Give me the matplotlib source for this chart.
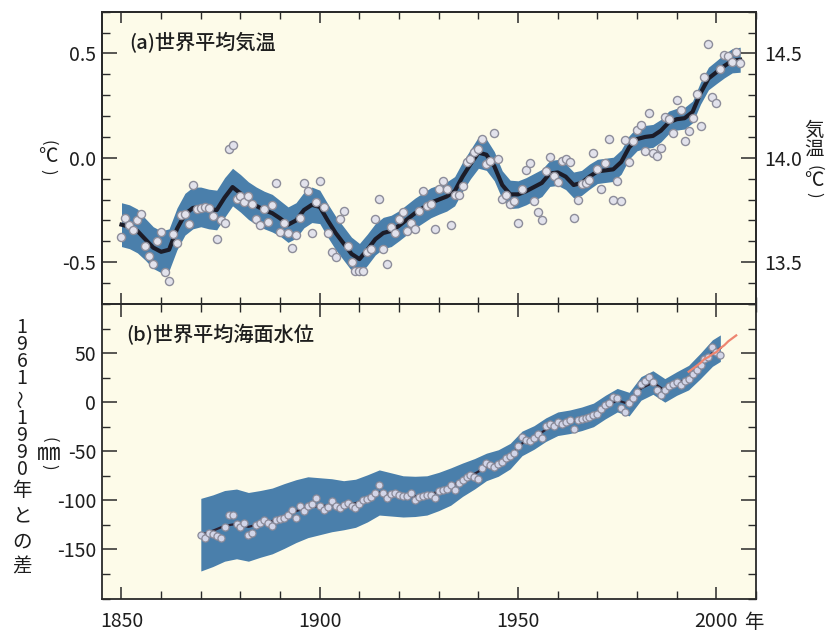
import numpy as np
import matplotlib
matplotlib.use("Agg")
import matplotlib.pyplot as plt
from matplotlib.ticker import MultipleLocator, FixedLocator

plt.rcParams['font.family'] = ['Noto Sans CJK JP', 'DejaVu Sans']
plt.rcParams['axes.unicode_minus'] = False

# (a) 世界平均気温 : 年平均偏差 (1961-1990 平均との差, ℃)
temp_years = np.arange(1850, 2007)
temp_vals = [
    -0.38, -0.29, -0.32, -0.345, -0.30, -0.27, -0.42, -0.47, -0.51, -0.40,
    -0.355, -0.545, -0.59, -0.365, -0.41, -0.275, -0.27, -0.315, -0.13, -0.245,
    -0.24, -0.235, -0.24, -0.28, -0.39, -0.30, -0.31, 0.04, 0.06, -0.195,
    -0.185, -0.21, -0.185, -0.22, -0.295, -0.32, -0.245, -0.305, -0.225, -0.12,
    -0.355, -0.31, -0.36, -0.43, -0.37, -0.29, -0.12, -0.16, -0.36, -0.21,
    -0.11, -0.235, -0.36, -0.45, -0.475, -0.295, -0.255, -0.42, -0.50, -0.54,
    -0.54, -0.54, -0.45, -0.435, -0.295, -0.195, -0.435, -0.51, -0.33, -0.36,
    -0.295, -0.26, -0.35, -0.31, -0.34, -0.255, -0.16, -0.23, -0.22, -0.34,
    -0.15, -0.11, -0.15, -0.32, -0.18, -0.18, -0.135, -0.02, -0.005, 0.03,
    0.04, 0.09, -0.03, -0.015, 0.12, -0.005, -0.195, -0.18, -0.22, -0.205,
    -0.31, -0.15, -0.06, -0.027, -0.207, -0.26, -0.297, -0.064, 0.005, -0.088,
    -0.117, -0.016, -0.005, -0.021, -0.29, -0.20, -0.127, -0.122, -0.106, 0.024,
    -0.052, -0.151, -0.027, 0.09, -0.20, -0.111, -0.205, 0.087, -0.021, 0.083,
    0.135, 0.159, 0.035, 0.216, 0.024, 0.008, 0.048, 0.197, 0.185, 0.121,
    0.278, 0.227, 0.083, 0.127, 0.19, 0.306, 0.151, 0.385, 0.544, 0.29,
    0.265, 0.424, 0.492, 0.487, 0.46, 0.507, 0.452,
]

# 平滑化曲線と不確実性の幅 (2年ごと)
temp_smooth_years = np.arange(1850, 2007, 2)
temp_smooth = [
    -0.32, -0.33, -0.35, -0.39, -0.43, -0.45, -0.44, -0.34, -0.27, -0.24,
    -0.235, -0.245, -0.25, -0.19, -0.14, -0.17, -0.205, -0.23, -0.25, -0.265,
    -0.29, -0.32, -0.30, -0.25, -0.225, -0.235, -0.30, -0.36, -0.41, -0.46,
    -0.485, -0.44, -0.39, -0.36, -0.35, -0.325, -0.295, -0.265, -0.24, -0.215,
    -0.20, -0.185, -0.16, -0.09, -0.03, 0.025, 0.015, -0.04, -0.13, -0.175,
    -0.175, -0.16, -0.14, -0.12, -0.075, -0.07, -0.09, -0.13, -0.12, -0.09,
    -0.065, -0.06, -0.055, -0.02, 0.05, 0.09, 0.10, 0.105, 0.13, 0.17,
    0.185, 0.19, 0.22, 0.31, 0.38, 0.41, 0.44, 0.465, 0.47,
]
temp_err = [
    0.105, 0.105, 0.105, 0.10, 0.10, 0.10, 0.10, 0.10, 0.10, 0.10,
    0.095, 0.095, 0.095, 0.095, 0.09, 0.09, 0.09, 0.09, 0.09, 0.09,
    0.085, 0.085, 0.085, 0.085, 0.085, 0.08, 0.08, 0.08, 0.08, 0.08,
    0.075, 0.075, 0.075, 0.075, 0.075, 0.072, 0.072, 0.072, 0.072, 0.072,
    0.07, 0.07, 0.07, 0.07, 0.07, 0.075, 0.075, 0.07, 0.068, 0.068,
    0.065, 0.065, 0.065, 0.065, 0.062, 0.062, 0.062, 0.062, 0.06, 0.06,
    0.058, 0.058, 0.058, 0.058, 0.056, 0.056, 0.055, 0.055, 0.054, 0.054,
    0.052, 0.052, 0.052, 0.053, 0.054, 0.055, 0.057, 0.058, 0.06,
]

# (b) 世界平均海面水位 : 1961-1990年との差 (mm)
sea_years = np.arange(1870, 2002)
sea_vals = [
    -135, -138, -133, -134, -136, -138, -127, -115, -115, -124,
    -127, -123, -135, -133, -125, -123, -120, -123, -126, -120,
    -119, -118, -115, -110, -118, -106, -111, -106, -104, -98,
    -106, -110, -107, -101, -106, -108, -105, -103, -106, -108,
    -104, -100, -99, -97, -93, -84, -93, -98, -94, -93,
    -95, -96, -96, -93, -100, -97, -96, -95, -95, -98,
    -91, -89, -88, -84, -89, -82, -79, -76, -74, -76,
    -78, -67, -62, -64, -66, -63, -61, -57, -55, -52,
    -45, -35, -39, -40, -37, -32, -37, -24, -22, -24,
    -20, -22, -20, -18, -27, -18, -17, -16, -15, -13,
    -12, -7, -3, -1, 5, 4, -6, -10, -1, 4,
    10, 18, 22, 26, 21, 12, 7, 12, 16, 19,
    21, 17, 22, 24, 29, 33, 38, 44, 46, 56,
    51, 48,
]

sea_smooth_years = list(range(1870, 2000, 3)) + [2001]
sea_smooth = [
    -135, -131, -126, -124, -127, -124, -121, -116, -111, -107,
    -106, -105, -105, -103, -98, -92, -94, -96, -96, -95,
    -91, -86, -79, -73, -66, -62, -55, -42, -36, -28,
    -22, -20, -17, -13, -5, 2, -2, 14, 20, 12,
    19, 25, 37, 50, 55,
]
sea_err = [
    37, 36.5, 36, 35.5, 35, 34, 33.5, 33, 32, 31,
    29, 27, 25, 24.5, 24, 23, 22, 21, 20.5, 20,
    19.5, 19, 17, 15.5, 14, 13.5, 13, 12.5, 12, 12,
    12, 12, 12, 12, 12, 12, 12, 12, 12, 12,
    12, 12.5, 13, 13.5, 13.5,
]

# 衛星観測 (赤線)
sat_years = np.arange(1993, 2006)
sat_vals = [31, 34, 37, 40, 44, 46, 49, 51, 55, 58, 62, 65, 68]

bg = '#FDFBE9'
band_c = '#4A7FAB'
spine_c = '#2a2a2a'
txt_c = '#1e1e1e'

fig = plt.figure(figsize=(8.32, 6.32), dpi=100)
ax1 = fig.add_axes([0.1222, 0.519, 0.7865, 0.4625])
ax2 = fig.add_axes([0.1222, 0.053, 0.7865, 0.466])

# ---- (a) 気温 ----
ts = np.array(temp_smooth)
te = np.array(temp_err)
ax1.set_facecolor(bg)
ax1.fill_between(temp_smooth_years, ts - te, ts + te, color=band_c, lw=0, zorder=1)
ax1.plot(temp_smooth_years, ts, color='#1c1c28', lw=3, zorder=2)
ax1.scatter(temp_years, temp_vals, s=34, facecolor='#E2E2EC', edgecolor='#8d8d9a',
            linewidth=1.0, zorder=3)
ax1.set_xlim(1845, 2010)
ax1.set_ylim(-0.7, 0.7)
ax1.yaxis.set_major_locator(FixedLocator([-0.5, 0.0, 0.5]))
ax1.yaxis.set_minor_locator(MultipleLocator(0.1))
ax1.set_yticklabels(['-0.5', '0.0', '0.5'])
ax1.xaxis.set_major_locator(MultipleLocator(50))
ax1.xaxis.set_minor_locator(MultipleLocator(10))
ax1.tick_params(axis='x', which='both', direction='in', top=True, bottom=True,
                labelbottom=False, color=spine_c)
ax1.tick_params(axis='x', which='major', length=8, width=1.1)
ax1.tick_params(axis='x', which='minor', length=5, width=1.0)
ax1.tick_params(axis='y', which='both', direction='in', labelsize=14, pad=4,
                color=spine_c, labelcolor=txt_c)
ax1.tick_params(axis='y', which='major', length=11, width=1.1)
ax1.tick_params(axis='y', which='minor', length=6, width=1.0)

ax1r = ax1.twinx()
ax1r.set_ylim(13.3, 14.7)
ax1r.yaxis.set_major_locator(FixedLocator([13.5, 14.0, 14.5]))
ax1r.yaxis.set_minor_locator(MultipleLocator(0.1))
ax1r.set_yticklabels(['13.5', '14.0', '14.5'])
ax1r.tick_params(axis='y', which='both', direction='in', labelsize=14, pad=6,
                 color=spine_c, labelcolor=txt_c)
ax1r.tick_params(axis='y', which='major', length=11, width=1.1)
ax1r.tick_params(axis='y', which='minor', length=6, width=1.0)

ax1.text(0.042, 0.895, '(a)世界平均気温', transform=ax1.transAxes, fontsize=14.5,
         fontweight='medium', color=txt_c, ha='left', va='center')

# ---- (b) 海面水位 ----
ss = np.array(sea_smooth)
se = np.array(sea_err)
ax2.set_facecolor(bg)
ax2.fill_between(sea_smooth_years, ss - se, ss + se, color=band_c, lw=0, zorder=1)
ax2.plot(sea_smooth_years, ss, color='#2b2233', lw=1.6, zorder=2)
ax2.scatter(sea_years, sea_vals, s=26, facecolor='#D2D5E8', edgecolor='#8a8a99',
            linewidth=0.9, zorder=3)
ax2.plot(sat_years, sat_vals, color='#EE8570', lw=1.6, zorder=4)
ax2.set_xlim(1845, 2010)
ax2.set_ylim(-200, 100)
ax2.yaxis.set_major_locator(FixedLocator([-150, -100, -50, 0, 50]))
ax2.yaxis.set_minor_locator(MultipleLocator(25))
ax2.xaxis.set_major_locator(MultipleLocator(50))
ax2.xaxis.set_minor_locator(MultipleLocator(10))
ax2.tick_params(axis='x', which='both', direction='in', top=True, bottom=True,
                labelsize=14, pad=9, color=spine_c, labelcolor=txt_c)
ax2.tick_params(axis='x', which='major', length=9, width=1.1)
ax2.tick_params(axis='x', which='minor', length=6, width=1.0)
ax2.tick_params(axis='y', which='both', direction='in', left=True, right=True,
                labelsize=14, pad=4, color=spine_c, labelcolor=txt_c)
ax2.tick_params(axis='y', which='major', length=11, width=1.1)
ax2.tick_params(axis='y', which='minor', length=6, width=1.0)

ax2.text(0.038, 0.895, '(b)世界平均海面水位', transform=ax2.transAxes, fontsize=14.5,
         fontweight='medium', color=txt_c, ha='left', va='center')

for a in (ax1, ax1r, ax2):
    for sp in a.spines.values():
        sp.set_color(spine_c)
        sp.set_linewidth(1.3)

W, H = 832.0, 632.0


def put(x, y, s, size=14, rot=0, ls=1.2):
    fig.text(x / W, 1 - y / H, s, fontsize=size, color=txt_c,
             ha='center', va='center', rotation=rot, linespacing=ls,
             multialignment='center')


# 縦書きラベル
put(754, 622, '年')

put(48, 143, '(', 12, -90)
put(48, 157, '℃', 14)
put(48, 172, ')', 12, -90)

put(814, 140, '気\n温', 14, 0, 0.95)
put(814, 168, '(', 12, -90)
put(814, 181, '℃', 14)
put(814, 195, ')', 12, -90)

put(49, 440, '(', 12, -90)
put(49, 453, '㎜', 17)
put(49, 467, ')', 12, -90)

# 1961〜1990年との差
put(22, 353, '1\n9\n6\n1', 14, 0, 0.76)
put(22, 399, '〜', 13, 90)
put(22, 444, '1\n9\n9\n0', 14, 0, 0.76)
put(22, 529, '年\nと\nの\n差', 14, 0, 1.29)

fig.savefig('out.png', dpi=100, facecolor='white')
